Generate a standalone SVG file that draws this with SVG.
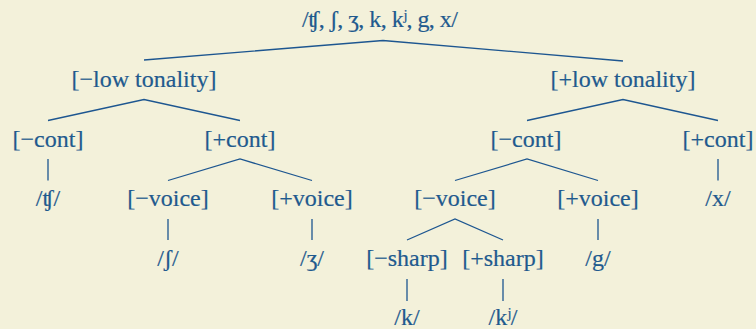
<svg xmlns="http://www.w3.org/2000/svg" width="756" height="329" viewBox="0 0 756 329">
<style>
text { font-family: "Liberation Serif", "Times New Roman", serif; font-size: 24px; fill: #1f5a8e; stroke: #1f5a8e; stroke-width: 0.2; text-anchor: middle; }
.c line, .c polyline { stroke: #1d5690; stroke-width: 1.3; fill: none; }
</style>
<rect width="756" height="329" fill="#f3f1da"/>
<g class="c" id="connectors">
<polyline points="144,60 383,40.5 623,61"/>
<polyline points="48,120.5 144,99.5 240,120.5"/>
<polyline points="527,120.5 623,99.5 718,120.5"/>
<line x1="48" y1="159" x2="48" y2="180.5"/>
<polyline points="168,180.5 240,159 312,180.5"/>
<polyline points="455,180.5 527,159 598,180.5"/>
<line x1="718" y1="159" x2="718" y2="180.5"/>
<line x1="168" y1="219" x2="168" y2="240"/>
<line x1="312" y1="219" x2="312" y2="240"/>
<polyline points="407,240 455,219 503,240"/>
<line x1="598" y1="219" x2="598" y2="240"/>
<line x1="407" y1="279" x2="407" y2="301"/>
<line x1="503" y1="279" x2="503" y2="301"/>
</g>
<g id="root"><text x="380" y="27" textLength="156" lengthAdjust="spacing">/ʧ, ʃ, ʒ, k, kʲ, g, x/</text></g>
<g id="low-neg"><text x="144" y="87">[−low tonality]</text></g>
<g id="low-pos"><text x="623" y="87">[+low tonality]</text></g>
<g id="cont-neg-l"><text x="48" y="147">[−cont]</text></g>
<g id="cont-pos-l"><text x="240" y="147">[+cont]</text></g>
<g id="cont-neg-r"><text x="526" y="147">[−cont]</text></g>
<g id="cont-pos-r"><text x="718" y="147">[+cont]</text></g>
<g id="tsh"><text x="48" y="206">/ʧ/</text></g>
<g id="voice-neg-l"><text x="168" y="206">[−voice]</text></g>
<g id="voice-pos-l"><text x="312" y="206">[+voice]</text></g>
<g id="voice-neg-r"><text x="455" y="206">[−voice]</text></g>
<g id="voice-pos-r"><text x="598" y="206">[+voice]</text></g>
<g id="x"><text x="718" y="206">/x/</text></g>
<g id="sh"><text x="168" y="266">/ʃ/</text></g>
<g id="zh"><text x="312" y="266">/ʒ/</text></g>
<g id="sharp-neg"><text x="407" y="266">[−sharp]</text></g>
<g id="sharp-pos"><text x="503" y="266">[+sharp]</text></g>
<g id="g"><text x="598" y="266">/g/</text></g>
<g id="k"><text x="407" y="325">/k/</text></g>
<g id="kj"><text x="503" y="325">/kʲ/</text></g>
</svg>
